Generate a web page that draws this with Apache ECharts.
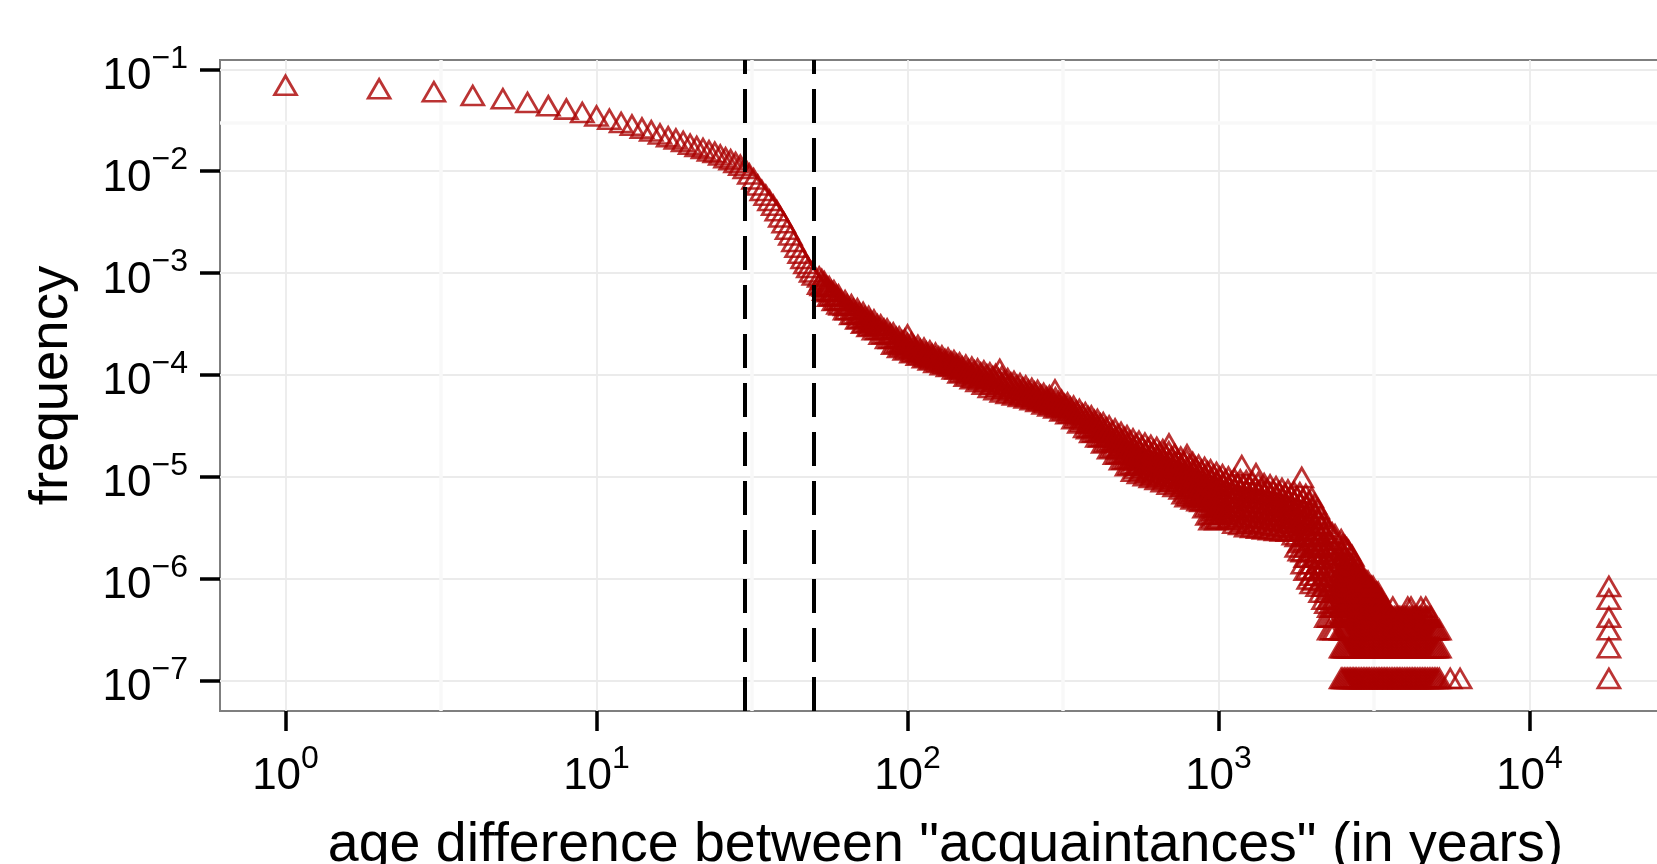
<!DOCTYPE html>
<html>
<head>
<meta charset="utf-8">
<script src="https://cdn.jsdelivr.net/npm/echarts@6/dist/echarts.min.js"></script>
<style>html,body{margin:0;padding:0;background:#fff}#c{width:1657px;height:864px}</style>
</head>
<body>
<div id="c"></div>
<script>
// ---- data ----
// ages 1..50: one clearly separated point each
const singleAge = [1,2,3,4,5,6,7,8,9,10,11,12,13,14,15,16,17,18,19,20,21,22,23,24,25,26,27,28,29,30,31,32,33,34,35,36,37,38,39,40,41,42,43,44,45,46,47,48,49,50];
const singleFreq = [0.0647,0.0598,0.0560,0.0514,0.0478,0.0439,0.0407,0.0378,0.0350,0.0324,
  0.0301,0.0279,0.0263,0.0246,0.0231,0.0215,0.0202,0.0192,0.0182,0.0171,
  0.0162,0.0155,0.0147,0.0142,0.0134,0.0126,0.0120,0.0113,0.0106,0.0099,
  0.0087,0.0078,0.0068,0.0060,0.0054,0.0048,0.0043,0.0038,0.0033,0.0029,
  0.0025,0.0022,0.0019,0.00166,0.00145,0.00129,0.00115,0.00105,0.00095,0.00089];

// dense band (first set of sampled ages): frequencies seen around each age
const bandAge = [52,54,56,58,60,63,66,69,72,75,78,82,86,90,94,98,103,108,113,118,123,129,135,141,147,154,161,168,176,184,192,201,210,220,230,240,251,262,274,286,299,313,327,342,357,373,390,408,426,445,465,486,508,531,555,580,606,633,662,692,723,756,790,826,863,902,943,985,1030,1076,1125,1175,1228,1284,1342,1402,1465,1531,1600,1672,1747,1826,1908,1994,2084,2178,2270,2370];
const bandFreq = [
  [8.5e-4,7.2e-4],[7.6e-4,6.9e-4,6.3e-4],[6.8e-4,6.1e-4,5.5e-4],[6.2e-4,5.6e-4,5.0e-4],[5.65e-4,5.1e-4,4.6e-4],
  [4.95e-4,4.45e-4,4.04e-4],[4.53e-4,4.07e-4,3.64e-4],[4.13e-4,3.7e-4,3.28e-4],[3.8e-4,3.4e-4,2.99e-4],[3.48e-4,3.1e-4,2.77e-4],
  [3.2e-4,2.86e-4,2.57e-4],[2.87e-4,2.6e-4,2.33e-4],[2.62e-4,2.37e-4,2.11e-4],[2.39e-4,2.13e-4,1.86e-4],[2.19e-4,1.95e-4,1.72e-4],
  [2.06e-4,1.83e-4,1.63e-4],[1.92e-4,1.71e-4,1.53e-4],[1.8e-4,1.6e-4,1.45e-4],[1.69e-4,1.52e-4,1.37e-4],[1.59e-4,1.43e-4,1.3e-4],
  [1.51e-4,1.37e-4,1.23e-4],[1.42e-4,1.29e-4,1.17e-4],[1.35e-4,1.22e-4,1.12e-4],[1.28e-4,1.16e-4,1.06e-4],[1.21e-4,1.09e-4,9.7e-5],
  [1.15e-4,1.02e-4,9.0e-5],[1.10e-4,9.7e-5,8.5e-5],[1.06e-4,9.3e-5,8.0e-5],[1.01e-4,8.9e-5,7.5e-5],[9.7e-5,8.5e-5,7.0e-5],
  [9.35e-5,8.1e-5,6.65e-5],[8.9e-5,7.7e-5,6.3e-5],[8.5e-5,7.4e-5,6.1e-5],[8.0e-5,7.0e-5,5.9e-5],[7.6e-5,6.6e-5,5.7e-5],
  [7.2e-5,6.3e-5,5.5e-5],[6.8e-5,6.0e-5,5.3e-5],[6.5e-5,5.7e-5,5.1e-5],[6.1e-5,5.4e-5,4.8e-5],[5.8e-5,5.2e-5,4.6e-5],
  [5.5e-5,4.9e-5,4.4e-5],[5.2e-5,4.6e-5,4.1e-5],[4.9e-5,4.4e-5,3.85e-5],[4.55e-5,4.0e-5,3.45e-5],[4.24e-5,3.7e-5,3.13e-5],
  [3.94e-5,3.4e-5,2.82e-5],[3.65e-5,3.2e-5,2.85e-5,2.53e-5],[3.38e-5,2.95e-5,2.57e-5,2.28e-5],[3.15e-5,2.72e-5,2.32e-5,1.99e-5],[2.92e-5,2.45e-5,2.09e-5,1.75e-5],
  [2.72e-5,2.25e-5,1.86e-5,1.54e-5],[2.52e-5,2.16e-5,1.86e-5,1.58e-5,1.36e-5],[2.34e-5,2.0e-5,1.66e-5,1.41e-5,1.19e-5],[2.18e-5,1.82e-5,1.51e-5,1.26e-5,1.05e-5],[2.07e-5,1.73e-5,1.44e-5,1.2e-5,1.0e-5],
  [1.98e-5,1.65e-5,1.37e-5,1.14e-5,9.5e-6],[1.88e-5,1.57e-5,1.31e-5,1.09e-5,9.1e-6],[1.8e-5,1.5e-5,1.25e-5,1.04e-5,8.7e-6],[1.71e-5,1.43e-5,1.19e-5,9.9e-6,8.3e-6],[1.63e-5,1.36e-5,1.13e-5,9.4e-6,7.85e-6],
  [1.53e-5,1.28e-5,1.07e-5,8.9e-6,7.45e-6],[1.44e-5,1.2e-5,1.01e-5,8.4e-6,7.05e-6],[1.36e-5,1.14e-5,9.5e-6,8.0e-6,6.67e-6,5.9e-6],[1.28e-5,1.07e-5,9.0e-6,7.5e-6,6.3e-6,5.6e-6],[1.2e-5,1.01e-5,8.5e-6,7.1e-6,5.97e-6,5.4e-6],
  [1.14e-5,9.5e-6,7.9e-6,6.6e-6,5.45e-6,4.6e-6],[1.08e-5,8.9e-6,7.3e-6,6.0e-6,4.9e-6,4.0e-6,3.5e-6],[1.02e-5,8.4e-6,6.9e-6,5.6e-6,4.6e-6,4.0e-6,3.5e-6],[9.7e-6,8.0e-6,6.5e-6,5.3e-6,4.4e-6,3.95e-6],[9.2e-6,7.6e-6,6.2e-6,5.1e-6,4.2e-6,3.55e-6],
  [8.8e-6,7.2e-6,5.9e-6,4.8e-6,3.95e-6,3.25e-6],[8.6e-6,7.1e-6,5.8e-6,4.7e-6,3.8e-6,3.15e-6],[8.45e-6,6.9e-6,5.7e-6,4.6e-6,3.7e-6,3.0e-6],[8.3e-6,6.8e-6,5.6e-6,4.5e-6,3.65e-6,2.95e-6],[8.1e-6,6.7e-6,5.5e-6,4.4e-6,3.6e-6,2.9e-6],
  [7.9e-6,6.5e-6,5.3e-6,4.3e-6,3.5e-6,2.85e-6],[7.7e-6,6.4e-6,5.2e-6,4.25e-6,3.45e-6,2.8e-6],[7.4e-6,6.2e-6,5.1e-6,4.2e-6,3.4e-6,2.75e-6],[7.1e-6,5.9e-6,4.9e-6,4.1e-6,3.3e-6,2.72e-6],[6.85e-6,5.7e-6,4.75e-6,3.95e-6,3.25e-6,2.7e-6],
  [6.6e-6,5.4e-6,4.4e-6,3.6e-6,2.9e-6,2.5e-6],[6.45e-6,5.2e-6,4.2e-6,3.4e-6,2.7e-6,2.1e-6,1.74e-6],[6.2e-6,4.9e-6,3.9e-6,3.1e-6,2.4e-6,1.9e-6,1.5e-6,1.12e-6],[5.8e-6,4.6e-6,3.6e-6,2.8e-6,2.2e-6,1.7e-6,1.3e-6,1.0e-6,8.3e-7],[4.5e-6,3.6e-6,2.8e-6,2.2e-6,1.7e-6,1.3e-6,1.0e-6,7.8e-7],
  [3.2e-6,2.6e-6,2.0e-6,1.6e-6,1.25e-6,9.7e-7,7.8e-7,5.8e-7],[2.8e-6,2.2e-6,1.7e-6,1.3e-6,1.0e-6,7.8e-7,5.8e-7,4.85e-7,3.88e-7,2.91e-7],[2.5e-6,1.9e-6,1.5e-6,1.16e-6,8.7e-7,6.8e-7,5.8e-7,4.85e-7,3.88e-7,2.91e-7]
];

// dense band (second set of sampled ages, between the first ones)
const bandAgeB = [53,55,57,59,61,64,67,70,73,76,80,84,88,92,96,100,105,110,115,120,126,132,138,144,150,157,164,172,180,188,196,205,215,225,235,245,256,268,280,292,306,320,334,349,365,381,399,417,435,455,475,497,519,543,567,593,619,647,677,707,739,773,808,844,882,922,964,1007,1053,1100,1150,1201,1256,1312,1372,1433,1498,1565,1636,1709,1786,1867,1950,2039,2130,2224,2320];
const bandFreqB = [
  [8.0e-4,7.0e-4],[6.85e-4,6.2e-4],[6.15e-4,5.55e-4],[5.6e-4,5.05e-4],[5.0e-4,4.5e-4],
  [4.5e-4,4.05e-4],[4.1e-4,3.66e-4],[3.75e-4,3.33e-4],[3.44e-4,3.06e-4],[3.15e-4,2.82e-4],
  [2.88e-4,2.59e-4],[2.61e-4,2.35e-4],[2.37e-4,2.11e-4],[2.16e-4,1.91e-4],[2.0e-4,1.78e-4],
  [1.88e-4,1.67e-4],[1.75e-4,1.57e-4],[1.65e-4,1.48e-4],[1.55e-4,1.4e-4],[1.47e-4,1.33e-4],
  [1.39e-4,1.26e-4],[1.31e-4,1.2e-4],[1.25e-4,1.14e-4],[1.18e-4,1.06e-4],[1.11e-4,9.9e-5],
  [1.05e-4,9.3e-5],[1.01e-4,8.8e-5],[9.7e-5,8.4e-5],[9.3e-5,7.9e-5],[8.9e-5,7.5e-5],
  [8.5e-5,7.2e-5],[8.1e-5,6.85e-5],[7.7e-5,6.6e-5],[7.3e-5,6.3e-5],[6.9e-5,6.0e-5],
  [6.55e-5,5.75e-5],[6.25e-5,5.5e-5],[5.9e-5,5.25e-5],[5.6e-5,5.0e-5],[5.35e-5,4.75e-5],
  [5.05e-5,4.5e-5],[4.75e-5,4.2e-5],[4.45e-5,3.9e-5],[4.1e-5,3.55e-5],[3.8e-5,3.25e-5],
  [3.6e-5,3.1e-5,2.75e-5],[3.3e-5,2.88e-5,2.55e-5],[3.05e-5,2.63e-5,2.28e-5],[2.8e-5,2.38e-5,2.03e-5],[2.58e-5,2.15e-5,1.8e-5],
  [2.4e-5,2.05e-5,1.75e-5,1.55e-5],[2.25e-5,1.92e-5,1.62e-5,1.38e-5],[2.08e-5,1.74e-5,1.45e-5,1.22e-5],[1.94e-5,1.62e-5,1.35e-5,1.12e-5],[1.85e-5,1.54e-5,1.28e-5,1.07e-5],
  [1.77e-5,1.47e-5,1.22e-5,1.02e-5],[1.68e-5,1.4e-5,1.17e-5,9.7e-6],[1.6e-5,1.34e-5,1.11e-5,9.3e-6],[1.52e-5,1.27e-5,1.06e-5,8.8e-6],[1.44e-5,1.2e-5,1.0e-5,8.4e-6],
  [1.36e-5,1.14e-5,9.5e-6,7.9e-6],[1.29e-5,1.08e-5,9.0e-6,7.5e-6,6.3e-6],[1.21e-5,1.01e-5,8.5e-6,7.1e-6,6.1e-6],[1.14e-5,9.5e-6,8.0e-6,6.7e-6,5.8e-6],[1.07e-5,9.0e-6,7.5e-6,6.2e-6,5.3e-6],
  [1.04e-5,8.6e-6,7.0e-6,5.8e-6,4.8e-6,3.9e-6],[9.6e-6,7.8e-6,6.4e-6,5.2e-6,4.3e-6,3.7e-6],[9.2e-6,7.5e-6,6.1e-6,5.0e-6,4.2e-6,3.6e-6],[8.6e-6,7.0e-6,5.7e-6,4.7e-6,4.0e-6],[8.2e-6,6.7e-6,5.5e-6,4.5e-6,3.7e-6],
  [7.9e-6,6.5e-6,5.3e-6,4.3e-6,3.5e-6],[7.8e-6,6.4e-6,5.2e-6,4.2e-6,3.4e-6],[7.6e-6,6.2e-6,5.1e-6,4.1e-6,3.3e-6],[7.4e-6,6.1e-6,5.0e-6,4.0e-6,3.25e-6],[7.2e-6,5.9e-6,4.85e-6,3.9e-6,3.15e-6],
  [7.0e-6,5.8e-6,4.7e-6,3.85e-6,3.1e-6],[6.8e-6,5.6e-6,4.6e-6,3.8e-6,3.05e-6],[6.6e-6,5.4e-6,4.5e-6,3.7e-6,3.0e-6],[6.3e-6,5.2e-6,4.3e-6,3.6e-6,2.95e-6],[6.1e-6,4.95e-6,4.0e-6,3.3e-6,2.75e-6],
  [5.9e-6,4.7e-6,3.8e-6,3.1e-6,2.4e-6,1.9e-6],[5.6e-6,4.5e-6,3.5e-6,2.8e-6,2.2e-6,1.7e-6,1.3e-6],[5.3e-6,4.2e-6,3.3e-6,2.5e-6,2.0e-6,1.5e-6,1.15e-6,9.2e-7],[5.0e-6,4.0e-6,3.1e-6,2.5e-6,1.9e-6,1.5e-6,1.15e-6,9.0e-7],[3.8e-6,3.1e-6,2.4e-6,1.9e-6,1.45e-6,1.1e-6,8.8e-7,6.8e-7],
  [3.0e-6,2.4e-6,1.85e-6,1.45e-6,1.1e-6,8.7e-7,6.8e-7,5.3e-7,3.88e-7],[2.6e-6,2.0e-6,1.6e-6,1.2e-6,9.5e-7,7.3e-7,5.8e-7,4.85e-7,3.88e-7,2.91e-7]
];

// start of the tail: values above the discrete levels
const tailUpperAge = [2480,2515,2550,2585,2620,2655,2690,2725,2760,2800];
const tailUpperFreq = [[2.23e-6,1.75e-6,1.36e-6,1.07e-6],[2.0e-6,1.6e-6,1.2e-6],[1.94e-6,1.55e-6,1.26e-6],[1.85e-6,1.45e-6,1.15e-6],[1.75e-6,1.36e-6,1.07e-6],[1.6e-6,1.3e-6,1.1e-6],[1.55e-6,1.26e-6],[1.4e-6,1.15e-6],[1.26e-6,1.07e-6],[1.15e-6]];

// sparse tail: frequencies sit on discrete count levels; each level is filled between two ages
const tailAges = [2480,2510,2540,2570,2600,2630,2660,2690,2720,2750,2780,2815,2850,2885,2920,2955,2990,3025,3060,3100,3140,3180,3220,3260,3300,3340,3380,3420,3460,3500,3545,3590,3635,3680,3725,3770,3815,3860,3910,3960,4010,4060,4110,4160,4210,4260,4310,4365,4420,4475,4530,4585,4640,4700,4760,4820,4880,4940,5000,5060,5130];
const tailLevels =    [9.7e-8, 1.94e-7, 2.91e-7, 3.88e-7, 4.85e-7, 5.82e-7, 6.79e-7, 7.76e-7, 8.73e-7, 9.7e-7];
const tailLevelFrom = [2480,   2480,    2480,    2480,    2480,    2480,    2480,    2480,    2480,    2480];
const tailLevelTo =   [5130,   5130,    5130,    4820,    3460,    3340,    3260,    3140,    3025,    2850];

// isolated points: scattered tail points and the far cluster
const sparseAge = [3635,4060,4160,4475,4640,5560,5980,18000,18000,18000,18000,18000,18000];
const sparseFreq = [4.85e-7,4.85e-7,4.85e-7,4.85e-7,4.85e-7,9.7e-8,9.7e-8,7.76e-7,5.82e-7,3.88e-7,2.91e-7,1.94e-7,9.7e-8];

// isolated points sticking out above the band
const outlierAge = [100,198,298,693,792,1188,1320,1852];
const outlierFreq = [2.29e-4,1.05e-4,6.6e-5,1.94e-5,1.52e-5,1.19e-5,9.9e-6,9.1e-6];

// dashed reference lines
const cutoffAges = [30, 50];

// axis ticks and gridlines
const xTicks = [1, 10, 100, 1000, 10000];
const yTicks = [1e-7, 1e-6, 1e-5, 1e-4, 1e-3, 1e-2, 1e-1];
const xMinorGrid = [3.1623, 31.623, 316.23, 3162.3];
const yMinorGrid = [3.1623e-7, 3.1623e-6, 3.1623e-5, 3.1623e-4, 3.1623e-3, 3.1623e-2];

// ---- build chart ----
const points = [];
singleAge.forEach((a, i) => points.push([a, singleFreq[i]]));
bandAge.forEach((a, i) => (bandFreq[i] || []).forEach(f => points.push([a, f])));
bandAgeB.forEach((a, i) => (bandFreqB[i] || []).forEach(f => points.push([a, f])));
tailUpperAge.forEach((a, i) => (tailUpperFreq[i] || []).forEach(f => points.push([a, f])));
tailLevels.forEach((lv, k) => tailAges.forEach(a => {
  if (a >= tailLevelFrom[k] && a <= tailLevelTo[k]) points.push([a, lv]);
}));
sparseAge.forEach((a, i) => points.push([a, sparseFreq[i]]));
outlierAge.forEach((a, i) => points.push([a, outlierFreq[i]]));

const FONT = "'Liberation Sans', Arial, Helvetica, sans-serif";
function expLabel(v) {
  const l = Math.log10(v);
  const e = Math.round(l);
  if (Math.abs(l - e) > 1e-6) return '';
  return '{b|10}{s|' + (e < 0 ? '\u2212' + (-e) : String(e)) + '}';
}
const rich = {
  b: { fontSize: 44, lineHeight: 68, fontFamily: FONT, color: '#000' },
  s: { fontSize: 32, lineHeight: 32, verticalAlign: 'top', fontFamily: FONT, color: '#000' }
};

const chart = echarts.init(document.getElementById('c'), null, { renderer: 'canvas' });
chart.setOption({
  animation: false,
  backgroundColor: '#ffffff',
  grid: {
    left: 220, top: 60, width: 1451, height: 651,
    show: true, borderColor: '#7f7f7f', borderWidth: 2, backgroundColor: '#ffffff',
    containLabel: false, outerBoundsMode: 'none'
  },
  xAxis: {
    type: 'log', logBase: 10, min: 0.6157, max: 28510,
    name: 'age difference between "acquaintances" (in years)',
    nameLocation: 'middle', nameGap: 107,
    nameTextStyle: { fontSize: 55.5, lineHeight: 55, fontFamily: FONT, color: '#000' },
    axisLine: { show: false },
    axisTick: { show: true, length: 20, customValues: xTicks, lineStyle: { color: '#000', width: 3.5 } },
    axisLabel: { customValues: xTicks, margin: 32, formatter: expLabel, rich: rich },
    splitLine: { show: true, lineStyle: { color: '#EBEBEB', width: 1.8 } },
    minorTick: { show: false }, minorSplitLine: { show: false }
  },
  yAxis: {
    type: 'log', logBase: 10, min: 4.995e-8, max: 0.1234,
    name: 'frequency',
    nameLocation: 'middle', nameGap: 141,
    nameTextStyle: { fontSize: 54.5, lineHeight: 55, fontFamily: FONT, color: '#000' },
    axisLine: { show: false },
    axisTick: { show: true, length: 20, customValues: yTicks, lineStyle: { color: '#000', width: 3.5 } },
    axisLabel: { customValues: yTicks, margin: 32, padding: [15, 0, 0, 0], formatter: expLabel, rich: rich },
    splitLine: { show: true, lineStyle: { color: '#EBEBEB', width: 1.8 } },
    minorTick: { show: false }, minorSplitLine: { show: false }
  },
  series: [
    {
      type: 'scatter', data: [], z: 1, silent: true,
      markLine: {
        z: 1, silent: true, symbol: ['none', 'none'], label: { show: false }, animation: false,
        lineStyle: { color: '#F8F8F8', width: 3.5, type: 'solid' },
        emphasis: { disabled: true },
        data: xMinorGrid.map(v => ({ xAxis: v })).concat(yMinorGrid.map(v => ({ yAxis: v })))
      }
    },
    {
      type: 'scatter', data: points, z: 3, silent: true, large: false, largeThreshold: 100000,
      progressive: 0,
      symbol: 'triangle', symbolSize: [22, 19], symbolOffset: [0, -3.2],
      itemStyle: { color: 'rgba(0,0,0,0)', borderColor: '#AA0000', borderWidth: 2.7 }
    },
    {
      type: 'scatter', data: [], z: 6, silent: true,
      markLine: {
        z: 6, silent: true, symbol: ['none', 'none'], label: { show: false }, animation: false,
        lineStyle: { color: '#000', width: 4, type: [34, 15] },
        emphasis: { disabled: true },
        data: cutoffAges.map(v => ({ xAxis: v }))
      }
    }
  ]
});
</script>
</body>
</html>
